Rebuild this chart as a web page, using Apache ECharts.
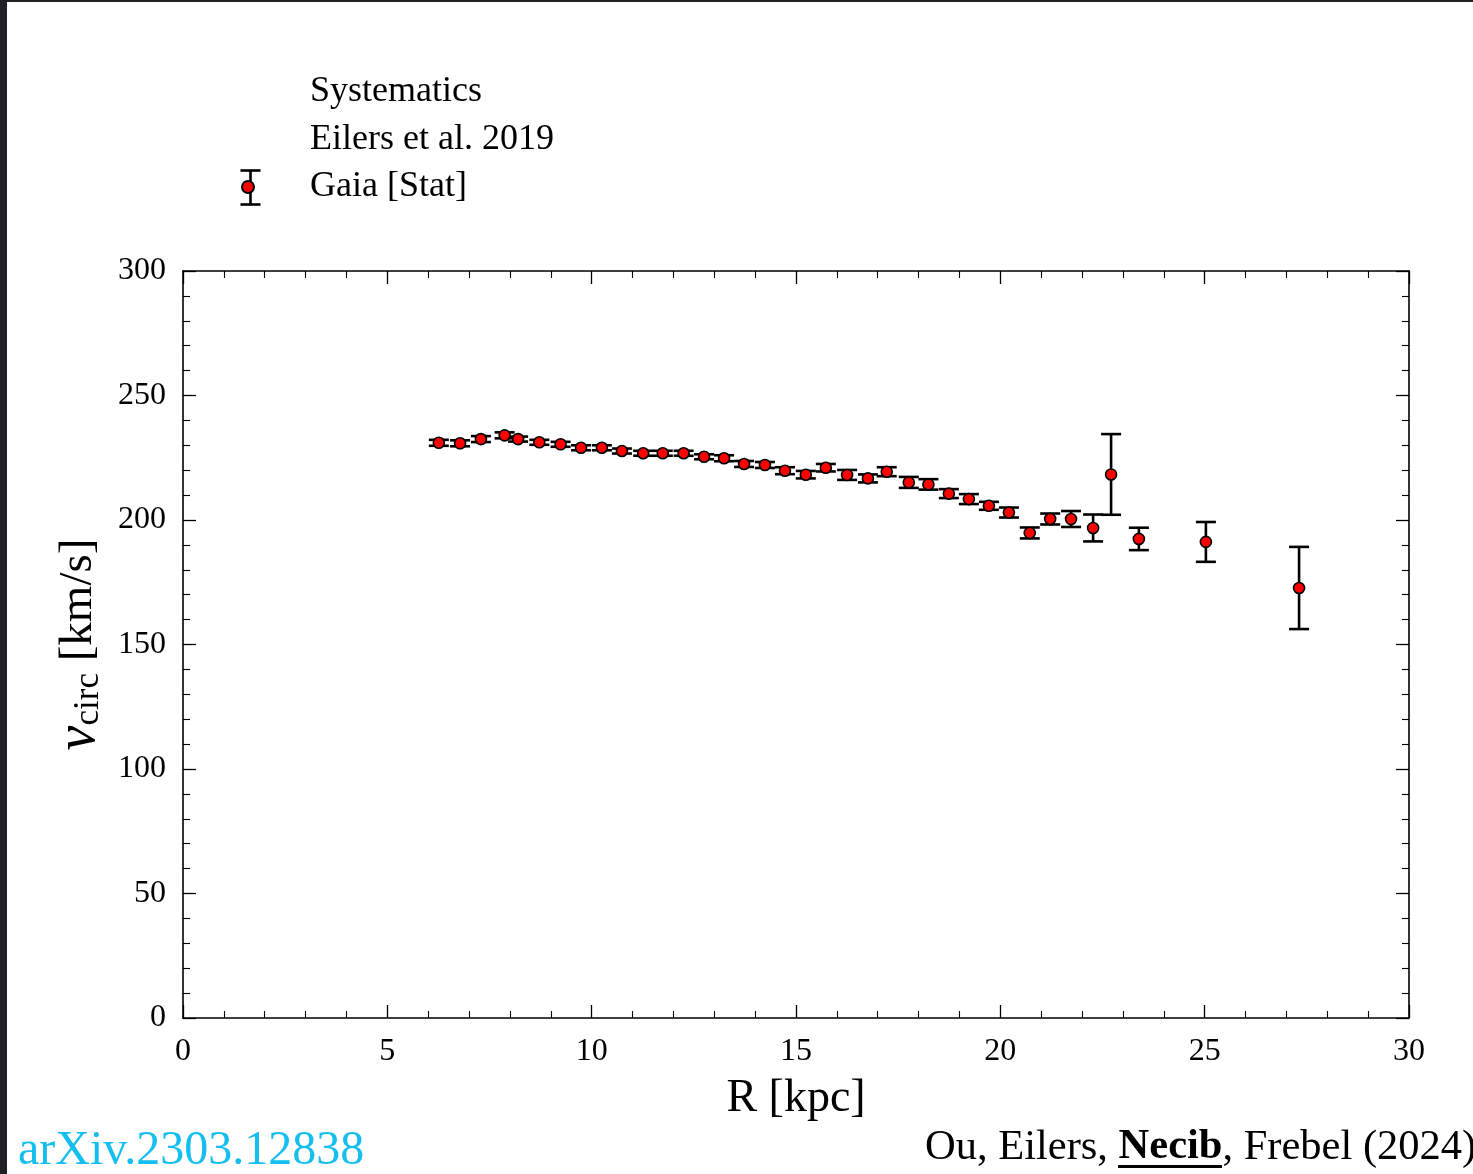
<!DOCTYPE html>
<html>
<head>
<meta charset="utf-8">
<script src="https://cdn.jsdelivr.net/npm/echarts@6/dist/echarts.min.js"></script>
<style>
html,body{margin:0;padding:0;background:#fff;}
#chart{width:1473px;height:1174px;}
</style>
</head>
<body>
<div id="chart"></div>
<script>
// Galactocentric radius R [kpc]
const R = [6.26, 6.78, 7.29, 7.87, 8.20, 8.72, 9.24, 9.74, 10.25, 10.74, 11.26, 11.74, 12.25, 12.75, 13.24,
           13.73, 14.24, 14.73, 15.24, 15.73, 16.25, 16.76, 17.22, 17.76, 18.24, 18.74, 19.23, 19.72, 20.21,
           20.72, 21.22, 21.73, 22.27, 22.71, 23.39, 25.03, 27.31];
// circular velocity [km/s]
const V = [231.0, 230.8, 232.5, 234.0, 232.5, 231.2, 230.4, 229.0, 229.0, 227.7, 226.8, 226.8, 226.8, 225.4, 224.8,
           222.5, 222.1, 219.8, 218.2, 221.0, 218.1, 216.7, 219.4, 215.1, 214.3, 210.6, 208.4, 205.7, 203.0,
           194.8, 200.4, 200.4, 196.8, 218.3, 192.4, 191.2, 172.7];
// statistical error [km/s]
const E = [1.2, 1.2, 1.2, 1.2, 1.0, 1.0, 1.0, 1.0, 1.0, 1.0, 1.0, 1.0, 1.0, 1.0, 1.2,
           1.2, 1.2, 1.4, 1.5, 1.5, 2.0, 1.6, 1.8, 2.2, 2.1, 1.8, 2.0, 1.6, 2.0,
           2.2, 2.2, 3.2, 5.4, 16.2, 4.5, 8.0, 16.5];

const legendNames = ['Systematics', 'Eilers et al. 2019', 'Gaia [Stat]'];
const xTickStep = 5, yTickStep = 50;

const SERIF = 'Liberation Serif';
const chart = echarts.init(document.getElementById('chart'));

function axisCommon(pos, showLabel, isX) {
  return {
    type: 'value',
    position: pos,
    min: 0,
    max: isX ? 30 : 300,
    interval: isX ? xTickStep : yTickStep,
    axisLine: {show: true, onZero: false, lineStyle: {color: '#000', width: 1.6}},
    axisTick: {show: true, inside: true, length: 13, lineStyle: {color: '#000', width: 1.3}},
    minorTick: {show: true, splitNumber: 5, length: 7, lineStyle: {color: '#000', width: 1.1}},
    splitLine: {show: false},
    axisLabel: {show: showLabel, color: '#000', fontFamily: SERIF, fontSize: 32, margin: isX ? 18 : 17,
                padding: isX ? 0 : [6, 0, 0, 0]},
  };
}

const xBottom = Object.assign(axisCommon('bottom', true, true), {
  name: 'R [kpc]', nameLocation: 'middle', nameGap: 58,
  nameTextStyle: {fontFamily: SERIF, fontSize: 46, color: '#000'}
});
const xTop = axisCommon('top', false, true);
const yLeft = Object.assign(axisCommon('left', true, false), {
  name: '{v|v}{s|circ}{u| [km/s]}', nameLocation: 'middle', nameGap: 76, nameRotate: 90,
  nameTextStyle: {
    color: '#000', fontFamily: SERIF, fontSize: 46,
    rich: {
      v: {fontFamily: SERIF, fontSize: 56, fontStyle: 'italic', color: '#000'},
      s: {fontFamily: SERIF, fontSize: 35, color: '#000', padding: [20, 0, 0, 0]},
      u: {fontFamily: SERIF, fontSize: 47, color: '#000'}
    }
  }
});
const yRight = axisCommon('right', false, false);

function renderErr(params, api) {
  const x = api.value(0), y = api.value(1), e = api.value(2);
  const t = api.coord([x, y + e]);
  const b = api.coord([x, y - e]);
  const hw = 10;
  const st = {stroke: '#000', lineWidth: 2.6};
  return {
    type: 'group',
    children: [
      {type: 'line', shape: {x1: t[0], y1: t[1], x2: b[0], y2: b[1]}, style: st},
      {type: 'line', shape: {x1: t[0] - hw, y1: t[1], x2: t[0] + hw, y2: t[1]}, style: st},
      {type: 'line', shape: {x1: b[0] - hw, y1: b[1], x2: b[0] + hw, y2: b[1]}, style: st}
    ]
  };
}

const option = {
  backgroundColor: '#fff',
  animation: false,
  grid: {left: 183, right: 64, top: 271, bottom: 156, containLabel: false},
  xAxis: [xBottom, xTop],
  yAxis: [yLeft, yRight],
  legend: {
    left: 228, top: 73, orient: 'vertical', padding: 0,
    itemWidth: 40, itemHeight: 12, itemGap: 9.5,
    selectedMode: false,
    textStyle: {fontFamily: SERIF, fontSize: 36, color: '#000', padding: [0, 0, 0, 37], lineHeight: 38},
    data: [
      {name: legendNames[0], icon: 'rect', itemStyle: {opacity: 0}},
      {name: legendNames[1], icon: 'rect', itemStyle: {opacity: 0}},
      {name: legendNames[2], icon: 'circle'}
    ]
  },
  graphic: [
    {type: 'rect', left: 0, top: 0, shape: {width: 7, height: 1174}, style: {fill: '#1f2124'}, z: 100},
    {type: 'rect', left: 0, top: 0, shape: {width: 1473, height: 2}, style: {fill: '#1f2124'}, z: 100},
    {type: 'group', left: 238, top: 168, z: -1, children: [
      {type: 'line', shape: {x1: 10, y1: 0, x2: 10, y2: 34}, style: {stroke: '#000', lineWidth: 2.6}},
      {type: 'line', shape: {x1: 0, y1: 0, x2: 20, y2: 0}, style: {stroke: '#000', lineWidth: 2.6}},
      {type: 'line', shape: {x1: 0, y1: 34, x2: 20, y2: 34}, style: {stroke: '#000', lineWidth: 2.6}}
    ]},
    {type: 'text', left: 18, top: 1127, style: {text: 'arXiv.2303.12838', fill: '#14bff0', fontFamily: SERIF, fontSize: 48}},
    {type: 'text', left: 925, top: 1126, style: {
      text: '{n|Ou, Eilers, }{b|Necib}{n|, Frebel (2024)}',
      rich: {
        n: {fontFamily: SERIF, fontSize: 42.5, fill: '#000'},
        b: {fontFamily: SERIF, fontSize: 42.5, fontWeight: 'bold', fill: '#000'}
      }
    }},
    {type: 'rect', left: 1118, top: 1165, shape: {width: 104, height: 3}, style: {fill: '#000'}}
  ],
  series: [
    {name: legendNames[0], type: 'line', data: [], itemStyle: {color: 'rgba(0,0,0,0)'}, lineStyle: {opacity: 0}},
    {name: legendNames[1], type: 'line', data: [], itemStyle: {color: 'rgba(0,0,0,0)'}, lineStyle: {opacity: 0}},
    {
      name: legendNames[2] + ' err', type: 'custom', renderItem: renderErr,
      data: R.map((r, i) => [r, V[i], E[i]]), encode: {x: 0, y: 1}, z: 2, silent: true
    },
    {
      name: legendNames[2], type: 'scatter', symbol: 'circle', symbolSize: 11,
      data: R.map((r, i) => [r, V[i]]),
      itemStyle: {color: '#ff0000', borderColor: '#000', borderWidth: 1.6, opacity: 1},
      z: 3
    }
  ]
};
chart.setOption(option);
</script>
</body>
</html>
